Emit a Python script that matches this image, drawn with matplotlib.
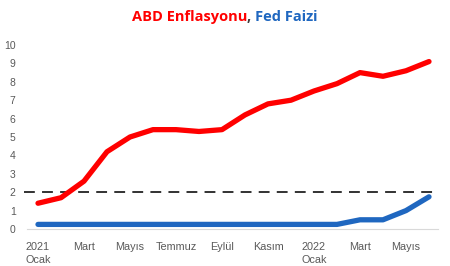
import matplotlib
matplotlib.use("Agg")
import matplotlib.pyplot as plt

months = ["Ocak", "Şubat", "Mart", "Nisan", "Mayıs", "Haziran", "Temmuz", "Ağustos",
          "Eylül", "Ekim", "Kasım", "Aralık", "Ocak", "Şubat", "Mart", "Nisan", "Mayıs", "Haziran"]
tick_labels = ["2021\nOcak", "Mart", "Mayıs", "Temmuz", "Eylül", "Kasım", "2022\nOcak", "Mart", "Mayıs"]
inflation = [1.4, 1.7, 2.6, 4.2, 5.0, 5.4, 5.4, 5.3, 5.4, 6.2, 6.8, 7.0, 7.5, 7.9, 8.5, 8.3, 8.6, 9.1]
fed_rate = [0.25, 0.25, 0.25, 0.25, 0.25, 0.25, 0.25, 0.25, 0.25, 0.25, 0.25, 0.25, 0.25, 0.25, 0.5, 0.5, 1.0, 1.75]
target = 2

W, H = 450, 266
L, R = 24, 436
fig = plt.figure(figsize=(W/100, H/100), dpi=100)
ax = fig.add_axes([L/W, (H-229)/H, (R-L)/W, 184/H])
x = list(range(len(months)))
ax.plot(x, inflation, color="#FF0000", lw=3.8, solid_capstyle="round", zorder=3)
ax.plot(x, fed_rate, color="#1F67C0", lw=3.8, solid_capstyle="round", zorder=3)
ax.axhline(target, color="#222222", lw=1.3, dashes=(6, 4), zorder=2)
ax.set_xlim((L-38)/23, (R-38)/23)
ax.set_ylim(0, 10)
ax.set_yticks(range(0, 11))
ax.set_xticks(x[::2])
ax.set_xticklabels(tick_labels, fontsize=7.8, color="#595959", family="Liberation Sans", linespacing=1.45)
for lbl in ax.get_xticklabels():
    lbl.set_verticalalignment("top")
ax.tick_params(axis="x", length=0, pad=9)
ax.tick_params(axis="y", length=0, pad=6, labelsize=7.5, labelcolor="#595959")
for lbl in ax.get_yticklabels():
    lbl.set_family("Liberation Sans")
for s in ["top", "right", "left"]:
    ax.spines[s].set_visible(False)
ax.spines["bottom"].set_color("#D9D9D9")
ax.spines["bottom"].set_linewidth(0.8)
ax.spines["bottom"].set_bounds((27-38)/23, (438-38)/23)

# Title with coloured parts
fs = 10.5
fig.canvas.draw()
r = fig.canvas.get_renderer()
parts = [("ABD Enflasyonu", "#FF0000"), (", ", "#404040"), ("Fed Faizi", "#1F67C0")]
texts = []
widths = []
for s, c in parts:
    t = fig.text(0, 1 - 17/H, s, color=c, fontsize=fs, fontweight="bold", ha="left", va="center", family="Open Sans")
    texts.append(t)
    widths.append(t.get_window_extent(r).width)
total = sum(widths)
xpos = (W/2 - total/2)
for t, w in zip(texts, widths):
    t.set_x(xpos / W)
    xpos += w

fig.savefig("out.png", dpi=100)
